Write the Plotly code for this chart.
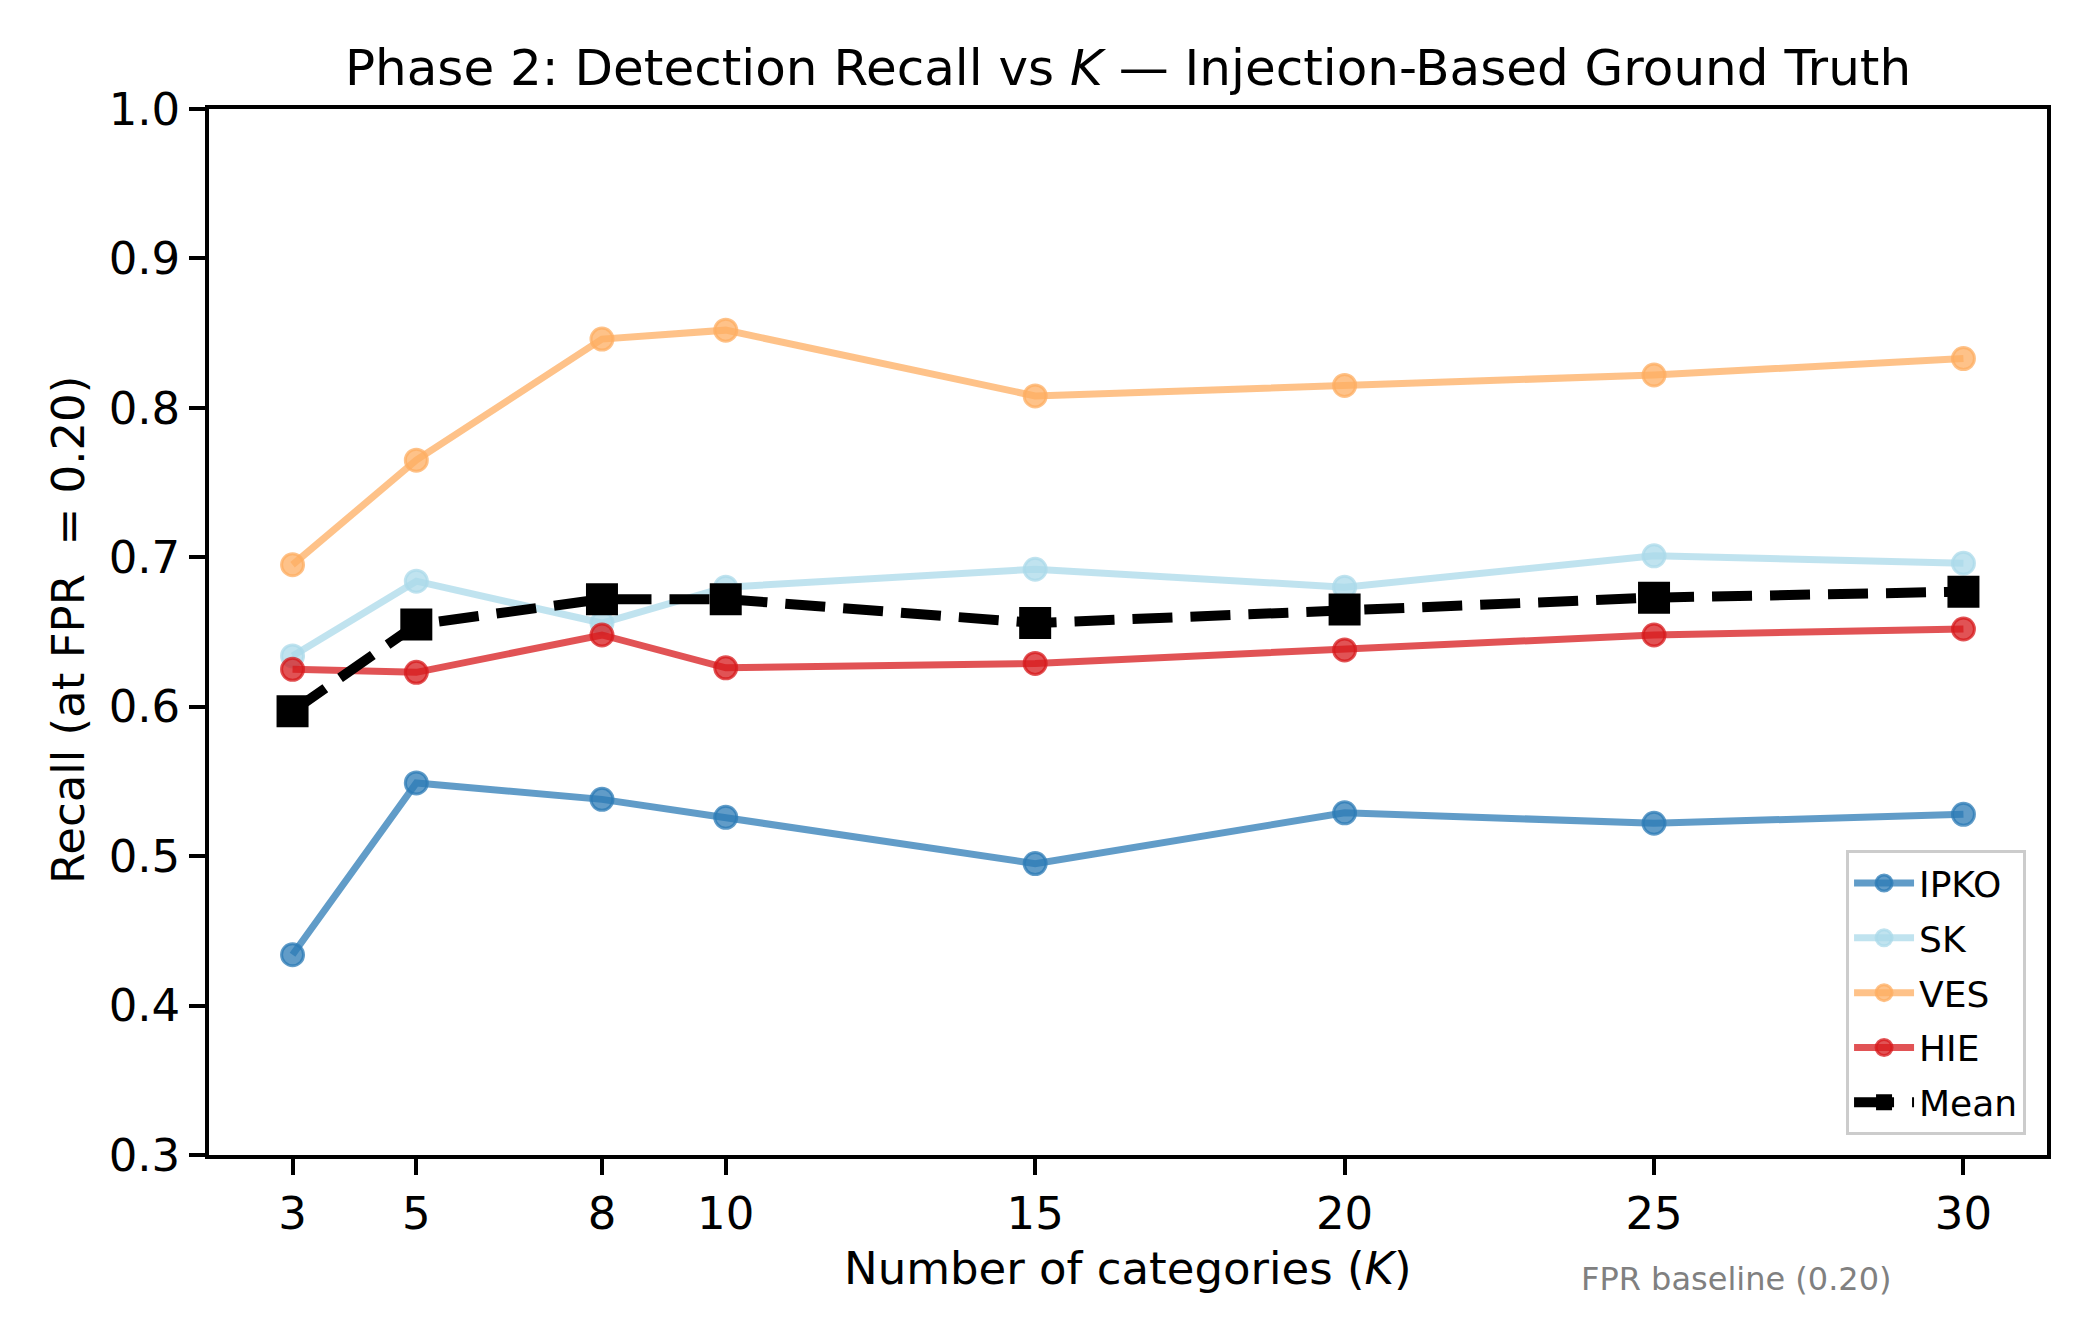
import plotly.graph_objects as go

K = [3, 5, 8, 10, 15, 20, 25, 30]
ipko = [0.434, 0.549, 0.538, 0.526, 0.495, 0.529, 0.522, 0.528]
sk = [0.634, 0.684, 0.656, 0.680, 0.692, 0.680, 0.701, 0.696]
ves = [0.695, 0.765, 0.846, 0.852, 0.808, 0.815, 0.822, 0.833]
hie = [0.625, 0.623, 0.648, 0.626, 0.629, 0.638, 0.648, 0.652]
mean = [0.597, 0.655, 0.672, 0.672, 0.656, 0.665, 0.673, 0.677]

series = [
    ("IPKO", ipko, (44, 123, 182)),
    ("SK", sk, (171, 217, 233)),
    ("VES", ves, (253, 174, 97)),
    ("HIE", hie, (215, 25, 28)),
]
alpha = 0.75
FONT = "DejaVu Sans"

fig = go.Figure()
for name, vals, (r, g, b) in series:
    c = f"rgba({r},{g},{b},{alpha})"
    fig.add_trace(go.Scatter(
        x=K, y=vals, name=name, mode="lines+markers", legendgroup=name,
        line=dict(color=c, width=7),
        marker=dict(symbol="circle", size=22, color=c,
                    line=dict(color=c, width=3)),
    ))
fig.add_trace(go.Scatter(
    x=K, y=mean, name="Mean", mode="lines+markers", legendgroup="Mean",
    line=dict(color="black", width=10, dash="40px,18px"),
    marker=dict(symbol="square", size=32, color="black"),
))

axis_common = dict(
    showgrid=False, zeroline=False, showline=True, linecolor="black",
    linewidth=3.5, mirror=True, ticks="outside", ticklen=16, tickwidth=3.5,
    tickcolor="black", tickfont=dict(family=FONT, size=45, color="black"),
)
fig.update_xaxes(range=[1.65, 31.35], tickmode="array", tickvals=K,
                 ticktext=[str(k) for k in K], **axis_common)
fig.update_yaxes(range=[0.3, 1.0], tickmode="array",
                 tickvals=[0.3, 0.4, 0.5, 0.6, 0.7, 0.8, 0.9, 1.0],
                 ticktext=["0.3", "0.4", "0.5", "0.6", "0.7", "0.8", "0.9", "1.0"],
                 **axis_common)

fig.update_layout(
    width=2091, height=1341,
    margin=dict(l=209, r=44, t=109, b=186),
    plot_bgcolor="white", paper_bgcolor="white",
    font=dict(family=FONT, color="black"),
    title=dict(text="Phase 2: Detection Recall vs <i>K</i> — Injection-Based Ground Truth",
               x=0.5, xref="paper", xanchor="center",
               y=1 - 67 / 1341, yref="container", yanchor="middle",
               font=dict(family=FONT, size=50, color="black")),
    legend=dict(x=0.9886, y=0.019, xanchor="right", yanchor="bottom",
                bgcolor="rgba(255,255,255,0.8)", bordercolor="#cccccc",
                borderwidth=3, font=dict(family=FONT, size=36, color="black"),
                itemwidth=60, tracegroupgap=5),
    showlegend=True,
    annotations=[
        dict(text="Number of categories (<i>K</i>)", xref="paper", yref="paper",
             x=0.5, y=(1155 - 1268) / 1046, xanchor="center", yanchor="middle",
             showarrow=False, font=dict(family=FONT, size=45, color="black")),
        dict(text="Recall (at FPR\u00a0\u00a0= 0.20)", xref="paper", yref="paper",
             x=(68 - 209) / 1838, y=(1155 - 630) / 1046, xanchor="center", yanchor="middle",
             textangle=-90, showarrow=False,
             font=dict(family=FONT, size=45, color="black")),
        dict(text="FPR baseline (0.20)", xref="paper", yref="paper",
             x=0.831, y=(1155 - 1279) / 1046, xanchor="center", yanchor="middle",
             showarrow=False, font=dict(family=FONT, size=32, color="gray")),
    ],
)

fig.write_html("out.html")
